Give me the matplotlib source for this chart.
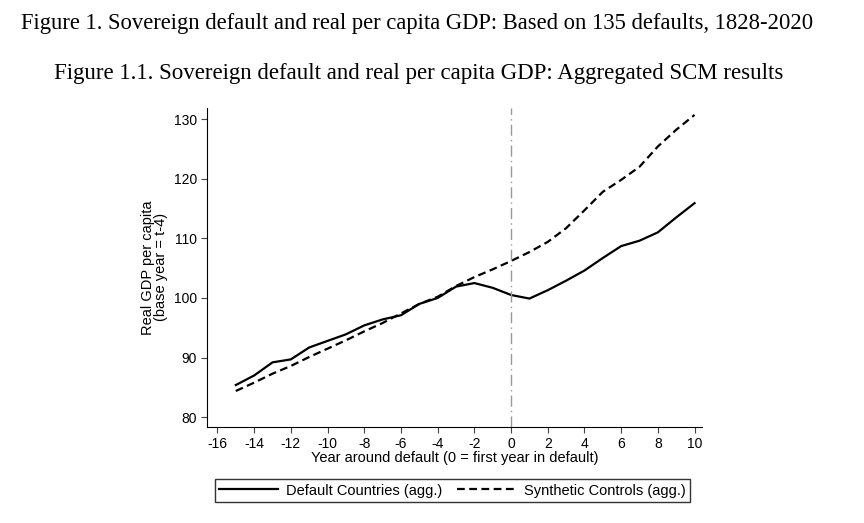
import matplotlib
matplotlib.use("Agg")
import matplotlib.pyplot as plt

plt.rcParams["font.family"] = "Liberation Sans"
plt.rcParams["axes.unicode_minus"] = False

years = list(range(-15, 11))
default = [85.4, 87.0, 89.2, 89.7, 91.7, 92.8, 93.9, 95.4, 96.4, 97.1, 99.0, 100.0, 101.9,
           102.5, 101.7, 100.5, 99.9, 101.3, 102.9, 104.6, 106.7, 108.7, 109.6, 111.0, 113.5, 115.9]
synthetic = [84.4, 85.8, 87.3, 88.6, 90.1, 91.5, 92.9, 94.4, 95.8, 97.4, 99.0, 100.2, 102.0,
             103.5, 104.8, 106.2, 107.7, 109.4, 111.7, 114.7, 117.8, 119.8, 122.0, 125.4, 128.2, 130.7]
xticks = list(range(-16, 11, 2))
yticks = [80, 90, 100, 110, 120, 130]

fig = plt.figure(figsize=(8.64, 5.23), dpi=100)
ax = fig.add_axes([0.24, 0.184, 0.573, 0.61])
ax.plot(years, default, color="black", lw=1.6, label="Default Countries (agg.)")
ax.plot(years, synthetic, color="black", lw=1.6, ls=(0, (3.5, 2)), label="Synthetic Controls (agg.)")
ax.axvline(0, color="#999999", lw=1, ls=(0, (8, 3, 1, 3)))
ax.set_xlim(-16.55, 10.43)
ax.set_ylim(78.4, 131.9)
ax.set_xticks(xticks)
ax.set_yticks(yticks)
ax.tick_params(labelsize=10, length=4, color="#444444")
for s in ["top", "right"]:
    ax.spines[s].set_visible(False)
ax.set_xlabel("Year around default (0 = first year in default)", fontsize=10.5, labelpad=0)
ax.set_ylabel("Real GDP per capita\n(base year = t-4)", fontsize=10.5, linespacing=0.9)
fig.text(0.483, 0.955, "Figure 1. Sovereign default and real per capita GDP: Based on 135 defaults, 1828-2020",
         ha="center", va="center", fontsize=16.3, family="Liberation Serif")
fig.text(0.485, 0.86, "Figure 1.1. Sovereign default and real per capita GDP: Aggregated SCM results",
         ha="center", va="center", fontsize=16.5, family="Liberation Serif")
fig.legend(loc="center", bbox_to_anchor=(0.524, 0.062), ncol=2, frameon=True, fancybox=False,
           edgecolor="black", fontsize=10.5, handlelength=4, handletextpad=0.6,
           columnspacing=1.0, borderpad=0.3)
fig.savefig("out.png", dpi=100, facecolor="white")
